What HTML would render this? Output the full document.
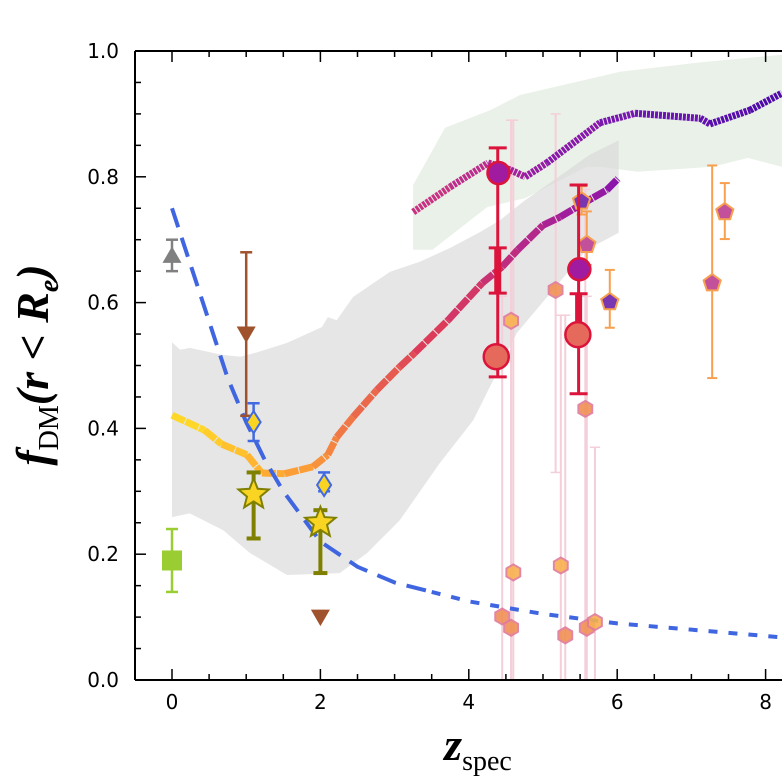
<!DOCTYPE html>
<html><head><meta charset="utf-8"><style>
body{margin:0;background:#fff}
svg{display:block}
</style></head><body>
<svg id="chart" width="782" height="782" viewBox="0 0 782 782" xmlns="http://www.w3.org/2000/svg">
<defs><clipPath id="plotclip"><rect x="135" y="51" width="660" height="629"/></clipPath></defs>
<g id="plot" clip-path="url(#plotclip)"></g>
<g id="axes"></g>
<text x="48" y="365" transform="rotate(-90 48 365)" text-anchor="middle" style="font-family:'Liberation Serif',serif;font-style:italic;font-weight:bold;font-size:46px">f<tspan style="font-size:28px;font-style:normal;font-weight:normal" dy="10">DM</tspan><tspan dy="-10">(r &lt; R</tspan><tspan style="font-size:28px" dy="10">e</tspan><tspan dy="-10">)</tspan></text>
<text x="478" y="760" text-anchor="middle" style="font-family:'Liberation Serif',serif;font-style:italic;font-weight:bold;font-size:46px">z<tspan style="font-size:28px;font-style:normal;font-weight:normal" dy="10">spec</tspan></text>
</svg>
<script>
const xTicks=[0,2,4,6,8];
const yTicks=[0.0,0.2,0.4,0.6,0.8,1.0];
const grayUpX=[0,0.11,0.24,0.67,0.92,1.15,1.55,2.02,2.10,2.22,2.44,2.94,3.34,3.75,4.15,4.42,4.76,5.09,5.63,6.02];
const grayUpY=[0.537,0.525,0.528,0.517,0.514,0.521,0.536,0.561,0.577,0.572,0.609,0.649,0.665,0.687,0.712,0.731,0.763,0.790,0.835,0.858];
const grayLoX=[6.02,5.59,4.65,4.33,4.06,3.61,3.07,2.63,2.26,1.55,1.05,0.69,0.24,0];
const grayLoY=[0.711,0.684,0.552,0.477,0.413,0.345,0.254,0.202,0.170,0.167,0.202,0.238,0.265,0.259];
const greenUpX=[3.25,3.68,4.29,4.69,6.04,7.12,8.22];
const greenUpY=[0.787,0.878,0.906,0.930,0.967,0.982,0.994];
const greenLoX=[8.22,7.76,7.29,6.27,5.77,5.59,4.76,4.25,3.51,3.25];
const greenLoY=[0.816,0.830,0.816,0.808,0.816,0.816,0.766,0.752,0.684,0.684];
const lineX=[0,0.44,0.67,1.01,1.21,1.52,1.90,2.10,2.22,2.44,2.76,3.07,3.27,3.72,4.18,4.45,4.66,5.00,5.23,5.50,5.86,6.01];
const lineY=[0.421,0.397,0.375,0.358,0.329,0.328,0.339,0.358,0.386,0.418,0.461,0.498,0.520,0.572,0.631,0.657,0.684,0.723,0.736,0.755,0.779,0.797];
const upX=[3.25,3.75,4.26,4.56,4.76,5.05,5.77,6.24,7.12,7.25,7.79,8.22];
const upY=[0.744,0.784,0.822,0.811,0.800,0.822,0.886,0.901,0.893,0.884,0.906,0.933];
const blueX=[0,0.25,0.5,0.75,1,1.25,1.5,2,2.5,3,3.5,4,5,6,7,8,8.4];
const blueY=[0.75,0.66,0.57,0.48,0.41,0.35,0.30,0.22,0.18,0.155,0.14,0.125,0.105,0.09,0.08,0.07,0.066];
const hexX=[4.57,5.17,5.57,4.60,4.45,4.57,5.24,5.30,5.59,5.70];
const hexY=[0.571,0.620,0.431,0.171,0.101,0.083,0.182,0.071,0.083,0.092];
const hexLo=[0.0,0.33,0.0,0.0,0.0,0.0,0.0,0.0,0.0,0.0];
const hexHi=[0.89,0.90,0.78,0.89,0.61,0.89,0.58,0.58,0.61,0.37];
const pentX=[7.45,7.28,5.90,5.52,5.59];
const pentY=[0.744,0.631,0.601,0.761,0.692];
const pentLo=[0.701,0.480,0.560,0.74,0.66];
const pentHi=[0.790,0.818,0.652,0.785,0.745];
const circX=[4.40,4.37,5.49,5.47];
const circY=[0.806,0.514,0.653,0.549];
const redBarX=[4.39,5.48];
const redBarLo=[0.482,0.455];
const redBarHi=[0.846,0.787];
const redThickLo=[0.615,0.549];
const redThickHi=[0.687,0.614];
const X=x=>172+74.2*x, Y=y=>680-629*y;
const NS="http://www.w3.org/2000/svg";
const plot=document.getElementById('plot'), axes=document.getElementById('axes');
function mk(tag,attrs,parent){const e=document.createElementNS(NS,tag);for(const k in attrs)e.setAttribute(k,attrs[k]);parent.appendChild(e);return e;}
function pts(xs,ys){return xs.map((x,i)=>X(x)+','+Y(ys[i])).join(' ');}
let e;
e=mk('polygon',{points:pts(greenUpX.concat(greenLoX),greenUpY.concat(greenLoY)),fill:'#e6efe4',opacity:0.85},plot);


e=mk('polygon',{points:pts(grayUpX.concat(grayLoX),grayUpY.concat(grayLoY)),fill:'#d8d8d8',opacity:0.65},plot);


hexX.forEach((x,i)=>{
 e=mk('line',{x1:X(x),x2:X(x),y1:Y(hexLo[i]),y2:Y(hexHi[i]),stroke:'#f4cfd9',"stroke-width":2},plot);
 
 
 [hexLo[i],hexHi[i]].forEach(v=>{mk('line',{x1:X(x)-5,x2:X(x)+5,y1:Y(v),y2:Y(v),stroke:'#f4cfd9',"stroke-width":1.5},plot);});
});
function lerp(a,b,t){return a.map((v,i)=>Math.round(v+(b[i]-v)*t));}
const stops=[[255,215,40],[255,170,50],[240,120,70],[220,60,90],[180,40,140],[140,20,170]];
function col(t){const s=t*(stops.length-1);const i=Math.min(Math.floor(s),stops.length-2);const c=lerp(stops[i],stops[i+1],s-i);return 'rgb('+c.join(',')+')';}
for(let i=0;i<lineX.length-1;i++){
 e=mk('line',{x1:X(lineX[i]),y1:Y(lineY[i]),x2:X(lineX[i+1]),y2:Y(lineY[i+1]),stroke:col(i/(lineX.length-2)),"stroke-width":7,"stroke-linecap":"butt","stroke-dasharray":"14 1"},plot);
 
 
}
const stops2=[[200,50,130],[160,30,160],[110,20,180],[80,10,170]];
for(let i=0;i<upX.length-1;i++){
 const t=i/(upX.length-2);const s=t*(stops2.length-1);const k=Math.min(Math.floor(s),stops2.length-2);
 e=mk('line',{x1:X(upX[i]),y1:Y(upY[i]),x2:X(upX[i+1]),y2:Y(upY[i+1]),stroke:'rgb('+lerp(stops2[k],stops2[k+1],s-k).join(',')+')',"stroke-width":7,"stroke-dasharray":"3 1"},plot);
 
 
}
const i35=blueX.indexOf(3.5);
e=mk('polyline',{points:pts(blueX.slice(0,i35+1),blueY.slice(0,i35+1)),fill:'none',stroke:'#3f66e0',"stroke-width":4,"stroke-dasharray":"20 11"},plot);


e=mk('polyline',{points:pts(blueX.slice(i35),blueY.slice(i35)),fill:'none',stroke:'#3f66e0',"stroke-width":4,"stroke-dasharray":"9 11"},plot);


function errbar(x,lo,hi,c,w,cap){mk('line',{x1:X(x),x2:X(x),y1:Y(lo),y2:Y(hi),stroke:c,"stroke-width":w},plot);[lo,hi].forEach(v=>mk('line',{x1:X(x)-cap,x2:X(x)+cap,y1:Y(v),y2:Y(v),stroke:c,"stroke-width":w},plot));}
function poly(n,r,cx,cy,rot){let p=[];for(let k=0;k<n;k++){const a=rot+2*Math.PI*k/n;p.push((cx+r*Math.cos(a))+','+(cy+r*Math.sin(a)));}return p.join(' ');}
function star(cx,cy,R,r){let p=[];for(let k=0;k<10;k++){const a=-Math.PI/2+Math.PI*k/5;const rr=k%2?r:R;p.push((cx+rr*Math.cos(a))+','+(cy+rr*Math.sin(a)));}return p.join(' ');}
hexX.forEach((x,i)=>{
 e=mk('polygon',{points:poly(6,8,X(x),Y(hexY[i]),Math.PI/6),fill:i%3==0?'#f9b04f':'#f19055',stroke:'#e07a9a',"stroke-width":2,opacity:0.9},plot);
 
 
});
pentX.forEach((x,i)=>{
 errbar(x,pentLo[i],pentHi[i],'#f7a050',2,5);
 e=mk('polygon',{points:poly(5,9,X(x),Y(pentY[i]),-Math.PI/2),fill:i==2||i==3?'#7a35b0':'#c3509a',stroke:'#f7a050',"stroke-width":2},plot);
 
 
});
redBarX.forEach((x,i)=>{
 errbar(x,redBarLo[i],redBarHi[i],'#dc143c',3,9);
 mk('line',{x1:X(x),x2:X(x),y1:Y(redThickLo[i]),y2:Y(redThickHi[i]),stroke:'#dc143c',"stroke-width":7},plot);
 [redThickLo[i],redThickHi[i]].forEach(v=>mk('line',{x1:X(x)-9,x2:X(x)+9,y1:Y(v),y2:Y(v),stroke:'#dc143c',"stroke-width":3},plot));
});
circX.forEach((x,i)=>{
 e=mk('circle',{cx:X(x),cy:Y(circY[i]),r:i%2?12.5:11,fill:i%2?'#e66a5c':'#a01ba0',stroke:'#dc143c',"stroke-width":2.5},plot);
 
 
});
errbar(0,0.65,0.70,'#808080',2.5,6);
e=mk('polygon',{points:poly(3,11,X(0),Y(0.675)+2,-Math.PI/2),fill:'#808080'},plot);


errbar(0,0.14,0.24,'#9acd32',2.5,6);
e=mk('rect',{x:X(0)-10,y:Y(0.19)-10,width:20,height:20,fill:'#9acd32'},plot);


errbar(1.0,0.42,0.68,'#a0522d',2.5,6);
e=mk('polygon',{points:poly(3,11,X(1.0),Y(0.55)-2,Math.PI/2),fill:'#a0522d'},plot);


e=mk('polygon',{points:poly(3,11,X(2.0),Y(0.10)-2,Math.PI/2),fill:'#a0522d'},plot);


errbar(1.1,0.38,0.44,'#4169e1',2.5,6);
errbar(2.05,0.30,0.33,'#4169e1',2.5,6);
[[1.1,0.41],[2.05,0.31]].forEach(d=>{
 e=mk('polygon',{points:`${X(d[0])},${Y(d[1])-11} ${X(d[0])+7},${Y(d[1])} ${X(d[0])},${Y(d[1])+11} ${X(d[0])-7},${Y(d[1])}`,fill:'#f9d423',stroke:'#4169e1',"stroke-width":2},plot);
 
 
});
errbar(1.1,0.225,0.33,'#808000',4,7);
errbar(2.0,0.17,0.27,'#808000',4,7);
[[1.1,0.295],[2.0,0.25]].forEach(d=>{
 e=mk('polygon',{points:star(X(d[0]),Y(d[1]),16,7),fill:'#f9d423',stroke:'#808000',"stroke-width":2},plot);
 
 
});
mk('line',{x1:135,y1:51,x2:135,y2:680,stroke:'#000',"stroke-width":2},axes);
mk('line',{x1:135,y1:680,x2:782,y2:680,stroke:'#000',"stroke-width":2},axes);
mk('line',{x1:135,y1:51,x2:782,y2:51,stroke:'#000',"stroke-width":2},axes);
for(let v=-0.5;v<=8.3;v+=0.5){const maj=Math.abs(v%2)<1e-6;const L=maj?11:6;
 mk('line',{x1:X(v),x2:X(v),y1:680,y2:680-L,stroke:'#000',"stroke-width":1.5},axes);
 mk('line',{x1:X(v),x2:X(v),y1:51,y2:51+L,stroke:'#000',"stroke-width":1.5},axes);}
for(let k=0;k<=20;k++){const v=k*0.05;const maj=k%4==0;mk('line',{x1:135,x2:135+(maj?11:6),y1:Y(v),y2:Y(v),stroke:'#000',"stroke-width":1.5},axes);}
xTicks.forEach(v=>{e=mk('text',{x:X(v),y:709,"text-anchor":"middle",style:"font-family:'DejaVu Sans',sans-serif;font-size:20px"},axes);e.textContent=v;
 
 });
yTicks.forEach(v=>{e=mk('text',{x:119,y:Y(v)+7,"text-anchor":"end",style:"font-family:'DejaVu Sans',sans-serif;font-size:20px"},axes);e.textContent=v.toFixed(1);
 
 });
</script>
</body></html>
